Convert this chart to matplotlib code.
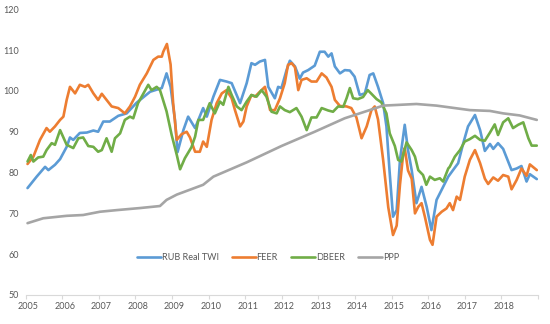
import matplotlib
matplotlib.use("Agg")
import matplotlib.pyplot as plt
import matplotlib.ticker as mticker

plt.rcParams['font.family'] = ['Lato', 'DejaVu Sans']

years = list(range(2005, 2019))

twi_t = [2005.05, 2005.3, 2005.53, 2005.62, 2005.8, 2005.94, 2006.12, 2006.21, 2006.3, 2006.48,
         2006.67, 2006.85, 2006.98, 2007.12, 2007.3, 2007.53, 2007.76, 2008.03, 2008.40, 2008.72,
         2008.85, 2008.96, 2009.08, 2009.15, 2009.31, 2009.44, 2009.63, 2009.85, 2009.95, 2010.13,
         2010.31, 2010.49, 2010.63, 2010.86, 2011.04, 2011.17, 2011.27, 2011.40, 2011.54, 2011.63,
         2011.81, 2011.90, 2011.99, 2012.13, 2012.22, 2012.36, 2012.49, 2012.58, 2012.72, 2012.90,
         2013.04, 2013.17, 2013.27, 2013.36, 2013.45, 2013.59, 2013.72, 2013.86, 2013.99, 2014.13,
         2014.27, 2014.40, 2014.50, 2014.63, 2014.77, 2014.86, 2014.95, 2015.04, 2015.14, 2015.23,
         2015.36, 2015.45, 2015.55, 2015.68, 2015.82, 2015.96, 2016.09, 2016.23, 2016.41, 2016.55,
         2016.68, 2016.82, 2016.96, 2017.09, 2017.28, 2017.42, 2017.55, 2017.69, 2017.78, 2017.91,
         2018.05, 2018.28, 2018.42, 2018.55, 2018.69, 2018.78, 2018.97]
twi_v = [76.2, 79, 81.4, 80.6, 81.9, 83.3, 86.3, 88.6, 88, 89.7,
         89.8, 90.3, 90, 92.5, 92.5, 93.9, 94.5, 97.1, 99.8, 100.7,
         104.3, 101, 92.9, 85.0, 90.4, 93.7, 90.9, 95.8, 93.7, 98.6,
         102.7, 102.3, 101.9, 97, 101.9, 106.8, 106.4, 107.2, 107.6, 101,
         98.2, 101, 100.7, 105.1, 107.4, 106, 103, 104.5, 105.1, 106.2,
         109.6, 109.6, 108.4, 109.2, 106, 104.3, 105.1, 105, 103.5, 99,
         99.4, 103.9, 104.3, 101, 97, 91.3, 79.8, 69.2, 70.8, 83.1,
         91.7, 85.5, 80.6, 72.5, 76.5, 71.6, 65.9, 73.3, 76.5, 79,
         80.6, 82.3, 87.2, 91.3, 94.1, 90.4, 85.3, 87, 85.8, 87.2,
         85.8, 80.6, 81, 81.6, 77.8, 79.6, 78.4]

feer_t = [2005.05, 2005.21, 2005.39, 2005.57, 2005.66, 2005.80, 2005.94, 2006.03, 2006.12, 2006.21,
          2006.35, 2006.48, 2006.62, 2006.71, 2006.85, 2006.98, 2007.08, 2007.21, 2007.35, 2007.53,
          2007.71, 2007.85, 2007.99, 2008.12, 2008.31, 2008.49, 2008.62, 2008.72, 2008.76, 2008.86,
          2008.96, 2009.03, 2009.13, 2009.26, 2009.40, 2009.49, 2009.63, 2009.76, 2009.85, 2009.95,
          2010.08, 2010.22, 2010.36, 2010.49, 2010.63, 2010.72, 2010.86, 2010.95, 2011.04, 2011.17,
          2011.27, 2011.40, 2011.54, 2011.68, 2011.81, 2011.95, 2012.08, 2012.17, 2012.27, 2012.36,
          2012.45, 2012.54, 2012.68, 2012.81, 2012.95, 2013.09, 2013.22, 2013.36, 2013.45, 2013.59,
          2013.77, 2013.90, 2014.04, 2014.18, 2014.32, 2014.45, 2014.54, 2014.63, 2014.77, 2014.91,
          2015.04, 2015.14, 2015.23, 2015.32, 2015.36, 2015.45, 2015.55, 2015.64, 2015.73, 2015.82,
          2015.91, 2016.05, 2016.12, 2016.23, 2016.37, 2016.50, 2016.59, 2016.68, 2016.78, 2016.87,
          2017.00, 2017.14, 2017.28, 2017.42, 2017.55, 2017.64, 2017.78, 2017.91, 2018.05, 2018.19,
          2018.28, 2018.42, 2018.55, 2018.69, 2018.78, 2018.97]
feer_v = [82.1, 83.9, 88, 90.9, 90, 91.3, 92.9, 93.7, 97.8, 101,
          99.4, 101.5, 101, 101.5, 99.4, 97.8, 99.3, 97.8, 96.2, 95.8,
          94.5, 96.2, 98.6, 101.5, 104.3, 107.6, 108.4, 108.4, 109.6, 111.5,
          106.5, 97, 88, 89.4, 90, 88.6, 85.1, 85.1, 87.6, 86.3,
          92.9, 97, 99.4, 100.2, 98.2, 95.3, 91.3, 92.5, 96.2, 99,
          98.6, 99.8, 101, 95.3, 95.3, 98.2, 101.9, 106.4, 106.8, 105.8,
          100.2, 102.7, 103.1, 102.3, 102.3, 104.3, 103.3, 101, 97.8, 96.3,
          96.2, 95.8, 93.5, 88.4, 91.3, 95.3, 96.2, 93, 83.1, 71.5,
          64.7, 67, 77, 84.7, 86, 80.5, 78.5, 70, 71.6, 72.5,
          69.2, 63.5, 62.3, 69.2, 70.4, 71.2, 72.5, 70.8, 74.1, 73.3,
          79, 83.1, 85.5, 82.3, 78.5, 77.2, 78.8, 78, 79.4, 79,
          75.9, 78.2, 81, 79.2, 82, 80.6]

dbeer_t = [2005.05, 2005.14, 2005.21, 2005.34, 2005.48, 2005.57, 2005.71, 2005.80, 2005.94, 2006.12,
           2006.30, 2006.44, 2006.57, 2006.71, 2006.85, 2006.98, 2007.08, 2007.21, 2007.35, 2007.44,
           2007.58, 2007.71, 2007.85, 2007.94, 2008.07, 2008.35, 2008.44, 2008.58, 2008.67, 2008.74,
           2008.85, 2008.99, 2009.13, 2009.22, 2009.35, 2009.53, 2009.63, 2009.72, 2009.85, 2010.03,
           2010.17, 2010.31, 2010.40, 2010.54, 2010.63, 2010.77, 2010.90, 2011.04, 2011.17, 2011.31,
           2011.45, 2011.58, 2011.72, 2011.86, 2011.95, 2012.08, 2012.22, 2012.40, 2012.54, 2012.68,
           2012.81, 2012.95, 2013.09, 2013.27, 2013.40, 2013.54, 2013.68, 2013.77, 2013.86, 2013.95,
           2014.08, 2014.22, 2014.35, 2014.45, 2014.59, 2014.72, 2014.86, 2014.95, 2015.09, 2015.18,
           2015.27, 2015.41, 2015.55, 2015.64, 2015.73, 2015.86, 2015.95, 2016.05, 2016.18, 2016.32,
           2016.41, 2016.55, 2016.59, 2016.73, 2016.87, 2017.00, 2017.14, 2017.28, 2017.42, 2017.55,
           2017.69, 2017.82, 2017.91, 2018.05, 2018.19, 2018.32, 2018.46, 2018.60, 2018.74, 2018.83,
           2018.97]
dbeer_v = [82.7, 84.3, 82.7, 83.7, 83.9, 85.5, 87.2, 86.8, 90.4, 86.8,
           86, 88.4, 88.6, 86.5, 86.3, 85.1, 85.5, 88.4, 85.1, 88.4,
           89.6, 92.9, 93.7, 93.3, 97, 101.5, 100.2, 101, 100.2, 98.2,
           95, 89.2, 84.3, 80.8, 83.5, 86.2, 88.8, 92.9, 92.9, 97,
           94.5, 97.4, 96.6, 101, 99, 96.2, 95.3, 97.4, 99, 98.6,
           100.2, 98.6, 94.9, 94.5, 96.2, 95.3, 94.8, 95.8, 93.7, 90.4,
           93.5, 93.5, 95.8, 95.2, 94.9, 96.2, 96.1, 98.2, 100.7, 98.2,
           98, 98.5, 100.2, 99.3, 98, 97.2, 94.5, 89.6, 86.5, 83.1,
           82.7, 87.4, 85.5, 83.9, 80.6, 79.4, 77, 79, 78.2, 78.6,
           77.8, 81, 81.4, 83.9, 85.5, 87.6, 88.2, 89, 88, 87.8,
           89.8, 91.8, 89.2, 92.3, 93.3, 90.9, 91.7, 92.3, 88.4, 86.6,
           86.6]

ppp_t = [2005.05, 2005.48, 2006.12, 2006.57, 2007.03, 2007.49, 2008.12, 2008.67, 2008.85, 2009.13,
         2009.85, 2010.13, 2011.04, 2011.99, 2012.90, 2013.72, 2014.40, 2014.77, 2015.23, 2015.68,
         2016.23, 2017.14, 2017.69, 2018.05, 2018.50, 2018.97]
ppp_v = [67.6, 68.8, 69.4, 69.6, 70.4, 70.8, 71.3, 71.8, 73.3, 74.6,
         77.0, 79.0, 82.5, 86.5, 90.0, 93.3, 95.3, 96.4, 96.6, 96.8,
         96.4, 95.3, 95.1, 94.5, 94.0, 92.9]

series = [
    ("RUB Real TWI", twi_t, twi_v, "#5B9BD5"),
    ("FEER", feer_t, feer_v, "#ED7D31"),
    ("DBEER", dbeer_t, dbeer_v, "#70AD47"),
    ("PPP", ppp_t, ppp_v, "#A5A5A5"),
]

fig = plt.figure(figsize=(5.5, 3.24), dpi=100)
ax = fig.add_axes([25.7 / 550, 29 / 324, 512.2 / 550, 285.7 / 324])

for name, t, v, c in series:
    ax.plot(t, v, color=c, lw=1.9, label=name, solid_joinstyle='round', solid_capstyle='round')

ax.set_xlim(2005, 2019)
ax.set_ylim(50, 120)
ax.set_yticks(range(50, 121, 10))
ax.set_xticks(years + [2019])
ax.set_xticklabels([str(y) for y in years] + [""])

for s in ["top", "right", "left"]:
    ax.spines[s].set_visible(False)
ax.spines["bottom"].set_color("#D9D9D9")
ax.spines["bottom"].set_linewidth(0.8)
ax.tick_params(axis="y", length=0, pad=5, labelsize=6.5, labelcolor="#595959")
ax.tick_params(axis="x", length=3, width=0.8, color="#D9D9D9", pad=2,
               labelsize=6.5, labelcolor="#595959")
for lab in ax.get_xticklabels():
    lab.set_horizontalalignment("left")
    lab.set_x(0)
import matplotlib.transforms as mtrans
offset = mtrans.ScaledTranslation(-8 / 100, 0, fig.dpi_scale_trans)
for lab in ax.get_xticklabels():
    lab.set_transform(lab.get_transform() + offset)

leg = ax.legend(loc="center", bbox_to_anchor=(0.473, 0.13), ncol=4, frameon=False,
                fontsize=6.5, handlelength=2.6, handletextpad=0.1, columnspacing=1.5,
                labelcolor="#595959")

fig.savefig("out.png", dpi=100)
